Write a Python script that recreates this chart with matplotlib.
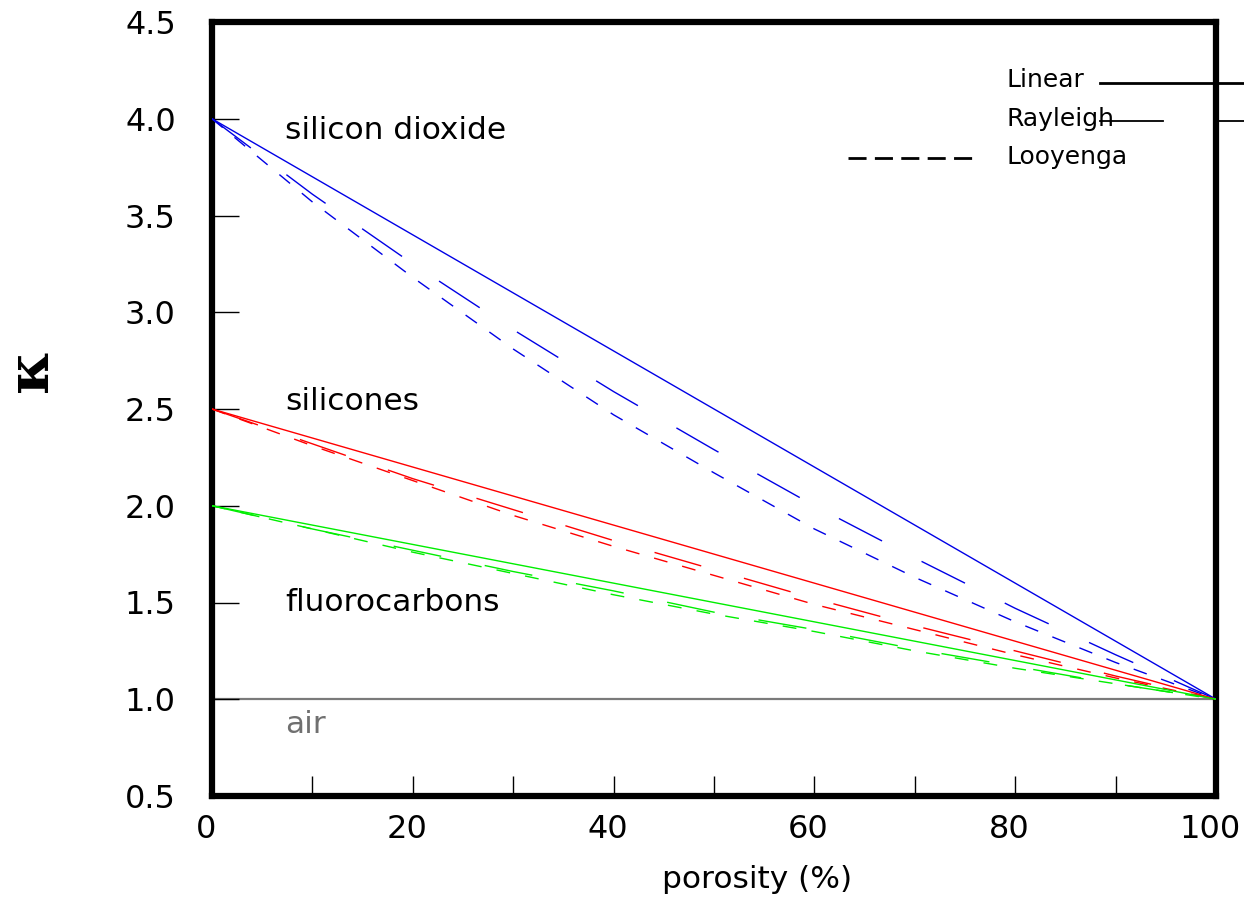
import matplotlib
matplotlib.use("Agg")
import matplotlib.pyplot as plt
from matplotlib.lines import Line2D
from matplotlib.transforms import ScaledTranslation

plt.rcParams['lines.scale_dashes'] = False
plt.rcParams['font.family'] = ['DejaVu Sans']

porosity = [0, 10, 20, 30, 40, 50, 60, 70, 80, 90, 100]

materials = ["silicon dioxide", "silicones", "fluorocarbons"]
colors = ["#0000e6", "#ff0000", "#00ee00"]

linear_sio2 = [4.00, 3.70, 3.40, 3.10, 2.80, 2.50, 2.20, 1.90, 1.60, 1.30, 1.00]
linear_sil = [2.50, 2.35, 2.20, 2.05, 1.90, 1.75, 1.60, 1.45, 1.30, 1.15, 1.00]
linear_fc = [2.00, 1.90, 1.80, 1.70, 1.60, 1.50, 1.40, 1.30, 1.20, 1.10, 1.00]

rayleigh_sio2 = [4.00, 3.61, 3.25, 2.91, 2.59, 2.29, 2.00, 1.73, 1.47, 1.23, 1.00]
rayleigh_sil = [2.50, 2.32, 2.14, 1.98, 1.82, 1.67, 1.52, 1.38, 1.25, 1.12, 1.00]
rayleigh_fc = [2.00, 1.88, 1.77, 1.66, 1.56, 1.45, 1.36, 1.26, 1.17, 1.08, 1.00]

looyenga_sio2 = [4.00, 3.57, 3.18, 2.81, 2.47, 2.17, 1.88, 1.63, 1.40, 1.19, 1.00]
looyenga_sil = [2.50, 2.31, 2.13, 1.95, 1.79, 1.64, 1.49, 1.36, 1.23, 1.11, 1.00]
looyenga_fc = [2.00, 1.88, 1.76, 1.65, 1.54, 1.44, 1.35, 1.25, 1.16, 1.08, 1.00]

air_x = [0, 100]
air_y = [1.0, 1.0]

x_ticks = [0, 20, 40, 60, 80, 100]
y_ticks = [0.5, 1.0, 1.5, 2.0, 2.5, 3.0, 3.5, 4.0, 4.5]

fig = plt.figure(figsize=(12.44, 9.01), dpi=100)
ax = fig.add_axes([212/1244, 1 - 796/901, (1216-212)/1244, (796-22)/901])

lw = 1.0
ax.plot(air_x, air_y, color="#7a7a7a", lw=1.6, zorder=1)

for lin, ray, loo, c in zip([linear_sio2, linear_sil, linear_fc],
                            [rayleigh_sio2, rayleigh_sil, rayleigh_fc],
                            [looyenga_sio2, looyenga_sil, looyenga_fc], colors):
    ax.plot(porosity, lin, color=c, lw=lw, zorder=3)
    ax.plot(porosity, ray, color=c, lw=lw, dashes=(35, 32), zorder=3)
    ax.plot(porosity, loo, color=c, lw=lw, dashes=(10, 11), zorder=3)

ax.set_xlim(0, 100)
ax.set_ylim(0.5, 4.5)
ax.set_xticks(x_ticks)
ax.set_yticks(y_ticks)
ax.set_xticks(range(0, 101, 10), minor=True)
ax.set_xticklabels([str(v) for v in x_ticks])
ax.set_yticklabels([f"{v:.1f}" for v in y_ticks])
ax.tick_params(axis='x', which='both', direction='in', length=14.5, width=1.0,
               labelsize=23, pad=13, top=False)
ax.tick_params(axis='y', direction='in', length=19.5, width=1.0,
               labelsize=23, pad=26, right=False)
shift = ScaledTranslation(-6/100, 0, fig.dpi_scale_trans)
for lab in ax.get_xticklabels():
    lab.set_transform(lab.get_transform() + shift)
for s in ax.spines.values():
    s.set_linewidth(4.5)

ax.text(0.543, -0.108, "porosity (%)", transform=ax.transAxes, fontsize=22.5,
        ha="center", va="center")
ax.text(-0.18, 0.55, "κ", transform=ax.transAxes, fontsize=42,
        family="DejaVu Serif", fontweight="bold", rotation=90,
        ha="center", va="center")

ax.text(7.3, 3.94, materials[0], fontsize=22.5, va="center", ha="left")
ax.text(7.3, 2.54, materials[1], fontsize=22.5, va="center", ha="left")
ax.text(7.3, 1.50, materials[2], fontsize=22.5, va="center", ha="left")
ax.text(7.3, 0.87, "air", fontsize=22.5, va="center", ha="left", color="#707070")

# legend-like annotations
tr = ax.transAxes
ax.text(0.791, 0.925, "Linear", transform=tr, fontsize=18, va="center", ha="left")
ax.text(0.791, 0.875, "Rayleigh", transform=tr, fontsize=18, va="center", ha="left")
ax.text(0.791, 0.826, "Looyenga", transform=tr, fontsize=18, va="center", ha="left")
ax.add_line(Line2D([0.884, 1.03], [0.921, 0.921], transform=tr, color="black",
                   lw=2.0, clip_on=False))
ax.add_line(Line2D([0.884, 0.947], [0.872, 0.872], transform=tr, color="black",
                   lw=1.3, clip_on=False))
ax.add_line(Line2D([1.0, 1.03], [0.872, 0.872], transform=tr, color="black",
                   lw=1.3, clip_on=False))
ax.add_line(Line2D([0.633, 0.763], [0.824, 0.824], transform=tr, color="black",
                   lw=2.0, dashes=(13, 6), clip_on=False))

fig.savefig("out.png", dpi=100)
